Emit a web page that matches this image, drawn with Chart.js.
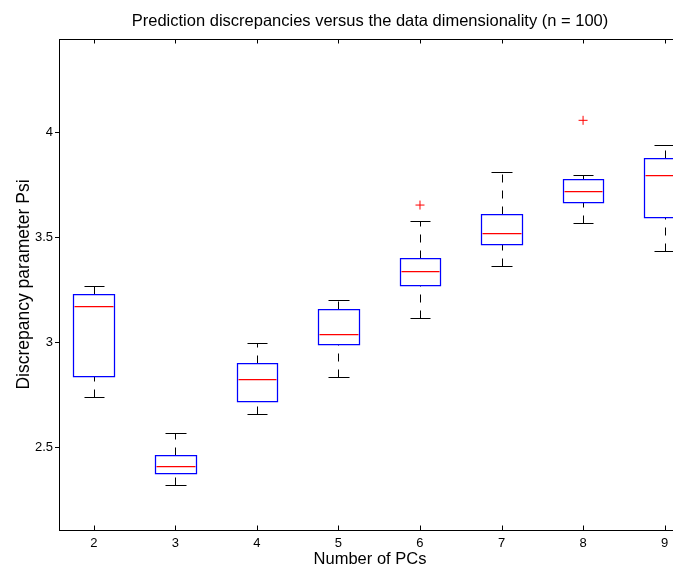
<!DOCTYPE html>
<html>
<head>
<meta charset="utf-8">
<script src="https://cdn.jsdelivr.net/npm/chart.js@4"></script>
<style>
  html, body { margin: 0; padding: 0; background: #fff; overflow: hidden; }
  #wrap { width: 673px; height: 567px; overflow: hidden; }
</style>
</head>
<body>
<div id="wrap"><canvas id="chart" width="740" height="567"></canvas></div>
<script>
// box plot summary per number of PCs
const pcs = [2, 3, 4, 5, 6, 7, 8, 9];
const upperWhisker = [3.271, 2.569, 2.998, 3.203, 3.580, 3.811, 3.798, 3.938];
const q3 = [3.230, 2.464, 2.901, 3.160, 3.404, 3.610, 3.777, 3.876];
const medians = [3.175, 2.413, 2.828, 3.039, 3.342, 3.521, 3.721, 3.797];
const q1 = [2.843, 2.378, 2.724, 2.992, 3.275, 3.469, 3.667, 3.599];
const lowerWhisker = [2.743, 2.323, 2.659, 2.838, 3.117, 3.366, 3.569, 3.436];
const outlierX = [6, 8];
const outlierY = [3.654, 4.057];
const yTicks = [2.5, 3, 3.5, 4];

const FONT = "'Liberation Sans', Arial, Helvetica, sans-serif";
const BOX_HALF = 0.25;
const CAP_HALF = 0.125;

// draws the boxes, whiskers and the axes frame from the scales
const boxPlot = {
  id: "boxPlot",
  beforeDatasetsDraw(chart) {
    const ctx = chart.ctx;
    const x = chart.scales.x;
    const y = chart.scales.y;
    const px = (v) => Math.round(x.getPixelForValue(v)) + 0.5;
    const py = (v) => Math.round(y.getPixelForValue(v)) + 0.5;
    ctx.save();
    pcs.forEach((p, i) => {
      const xc = px(p);
      // whiskers, dashed, drawn from low value to high value
      ctx.lineWidth = 1;
      ctx.strokeStyle = "#000000";
      ctx.setLineDash([8, 8]);
      ctx.beginPath();
      ctx.moveTo(xc, py(q3[i]));
      ctx.lineTo(xc, py(upperWhisker[i]));
      ctx.moveTo(xc, py(lowerWhisker[i]));
      ctx.lineTo(xc, py(q1[i]));
      ctx.stroke();
      ctx.setLineDash([]);
      // caps
      ctx.beginPath();
      ctx.moveTo(px(p - CAP_HALF), py(upperWhisker[i]));
      ctx.lineTo(px(p + CAP_HALF), py(upperWhisker[i]));
      ctx.moveTo(px(p - CAP_HALF), py(lowerWhisker[i]));
      ctx.lineTo(px(p + CAP_HALF), py(lowerWhisker[i]));
      ctx.stroke();
      // box
      const l = px(p - BOX_HALF), r = px(p + BOX_HALF);
      ctx.lineWidth = 1.25;
      ctx.strokeStyle = "#0000ff";
      ctx.beginPath();
      ctx.rect(l, py(q3[i]), r - l, py(q1[i]) - py(q3[i]));
      ctx.stroke();
      // median
      ctx.strokeStyle = "#ff0000";
      ctx.beginPath();
      ctx.moveTo(l + 1, py(medians[i]));
      ctx.lineTo(r - 1, py(medians[i]));
      ctx.stroke();
    });
    ctx.restore();
  },
  afterDraw(chart) {
    const ctx = chart.ctx;
    const a = chart.chartArea;
    const x = chart.scales.x;
    const L = Math.round(a.left) + 0.5, R = Math.round(a.right) + 0.5;
    const T = Math.round(a.top) + 0.5, B = Math.round(a.bottom) + 0.5;
    ctx.save();
    ctx.strokeStyle = "#000";
    ctx.lineWidth = 1;
    ctx.strokeRect(L, T, R - L, B - T);
    // inward ticks on top and bottom
    ctx.beginPath();
    pcs.forEach((p) => {
      const xx = Math.round(x.getPixelForValue(p)) + 0.5;
      ctx.moveTo(xx, B);
      ctx.lineTo(xx, B - 5);
      ctx.moveTo(xx, T);
      ctx.lineTo(xx, T + 4);
    });
    ctx.stroke();
    ctx.restore();
  },
};

new Chart(document.getElementById("chart"), {
  type: "scatter",
  data: {
    datasets: [
      {
        label: "Outliers",
        data: outlierX.map((v, i) => ({ x: v, y: outlierY[i] })),
        pointStyle: "cross",
        radius: 4.5,
        borderColor: "#ff0000",
        borderWidth: 1,
      },
    ],
  },
  options: {
    responsive: false,
    animation: false,
    layout: { padding: 0 },
    plugins: {
      legend: { display: false },
      tooltip: { enabled: false },
      title: {
        display: true,
        text: "Prediction discrepancies versus the data dimensionality (n = 100)",
        color: "#000",
        font: { family: FONT, size: 16.5, weight: "normal", lineHeight: 1 },
        padding: { top: 13.5, bottom: 9 },
      },
    },
    scales: {
      x: {
        type: "linear",
        min: 1.573,
        max: 9.201,
        afterBuildTicks: (s) => { s.ticks = pcs.map((v) => ({ value: v })); },
        afterFit: (s) => { s.height = 37; },
        grid: { display: false, drawTicks: false },
        border: { display: false },
        ticks: { color: "#000", padding: 6, font: { family: FONT, size: 13 } },
        title: {
          display: true,
          text: "Number of PCs",
          color: "#000",
          font: { family: FONT, size: 16.5, lineHeight: 1 },
          padding: { top: 0, bottom: -1 },
        },
      },
      y: {
        min: 2.1087,
        max: 4.4437,
        afterBuildTicks: (s) => { s.ticks = yTicks.map((v) => ({ value: v })); },
        afterFit: (s) => { s.width = 59; },
        grid: { drawOnChartArea: false, drawTicks: true, tickLength: 4, color: "#000" },
        border: { display: false },
        ticks: {
          color: "#000",
          padding: 2,
          font: { family: FONT, size: 13 },
          callback: (v) => String(v),
        },
        title: {
          display: true,
          text: "Discrepancy parameter Psi",
          color: "#000",
          font: { family: FONT, size: 17.5, lineHeight: 1 },
          padding: { top: 15, bottom: 0 },
        },
      },
      // empty right-hand axis: reserves the space beyond the visible crop
      yRight: {
        position: "right",
        min: 2.1087,
        max: 4.4437,
        afterFit: (s) => { s.width = 59; },
        grid: { display: false, drawTicks: false },
        border: { display: false },
        ticks: { display: false },
      },
    },
  },
  plugins: [boxPlot],
});
</script>
</body>
</html>
